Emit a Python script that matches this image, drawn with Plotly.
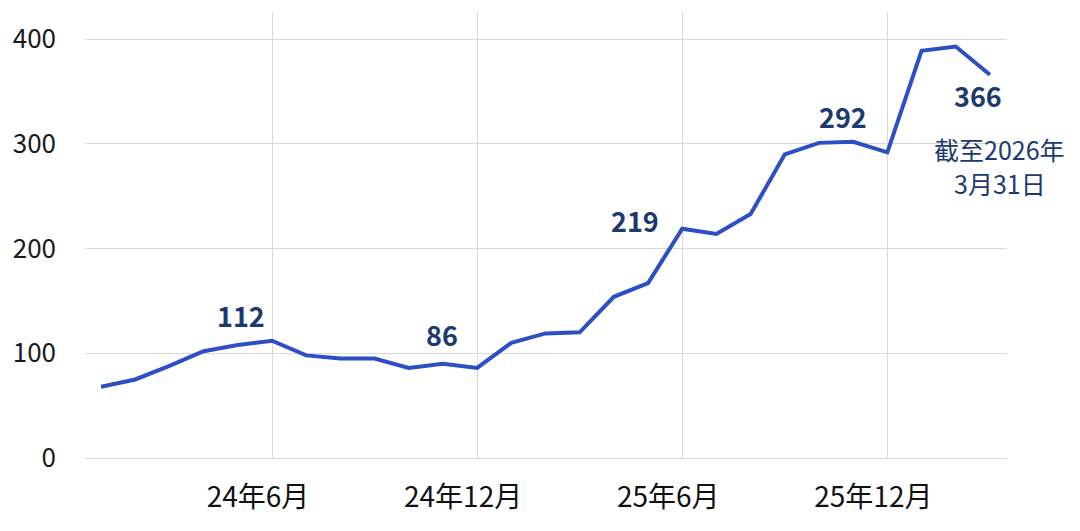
import plotly.graph_objects as go

# monthly values, Jan 2024 .. Mar 2026
months = [
    "24年1月", "24年2月", "24年3月", "24年4月", "24年5月", "24年6月",
    "24年7月", "24年8月", "24年9月", "24年10月", "24年11月", "24年12月",
    "25年1月", "25年2月", "25年3月", "25年4月", "25年5月", "25年6月",
    "25年7月", "25年8月", "25年9月", "25年10月", "25年11月", "25年12月",
    "26年1月", "26年2月", "26年3月",
]
values = [68, 75, 88, 102, 108, 112, 98, 95, 95, 86, 90, 86,
          110, 119, 120, 154, 167, 219, 214, 233, 290, 301, 302, 292,
          389, 393, 366]

tick_months = ["24年6月", "24年12月", "25年6月", "25年12月"]
y_ticks = [0, 100, 200, 300, 400]

# which points get a number, and where the number sits (px offsets)
labelled = ["24年6月", "24年12月", "25年6月", "25年12月", "26年3月"]
label_shift = [(-31, 25), (-35, 33), (-47, 8), (-44, 36), (-12, -21)]
note_lines = ["截至2026年", "3月31日"]

x_idx = list(range(len(months)))
tick_idx = [months.index(m) for m in tick_months]

LINE = "#2C4FC6"
NAVY = "#1D3A70"
FONT = "Noto Sans CJK SC"

fig = go.Figure()
fig.add_trace(go.Scatter(
    x=x_idx, y=values, mode="lines",
    line=dict(color=LINE, width=4),
    hoverinfo="skip",
))

for m, (dx, dy) in zip(labelled, label_shift):
    i = months.index(m)
    fig.add_annotation(
        x=i, y=values[i], text=f"<b>{values[i]}</b>", showarrow=False,
        xshift=dx, yshift=dy,
        font=dict(family=FONT, size=27, color=NAVY),
    )

# the "as of" note under the last value, one line per annotation
last = len(months) - 1
for k, line in enumerate(note_lines):
    fig.add_annotation(
        x=last, y=values[last], text=line, showarrow=False,
        xshift=10, yshift=-74 - 34 * k,
        borderpad=0, borderwidth=0,
        font=dict(family=FONT, size=25, color=NAVY),
    )

# page body adds ~8px, so margins are offset to compensate
fig.update_layout(
    width=1080, height=531,
    margin=dict(l=77, r=81, t=4, b=81),
    plot_bgcolor="white", paper_bgcolor="white",
    showlegend=False,
    font=dict(family=FONT, color="#222222"),
    xaxis=dict(
        range=[-0.47, 26.5],
        tickvals=tick_idx, ticktext=tick_months,
        showgrid=True, gridcolor="#D9D9D9", gridwidth=1,
        zeroline=False, showline=False, ticks="",
        tickfont=dict(family=FONT, size=28, color="#111111"),
        ticklabelstandoff=20, ticklabelshift=-14,
        fixedrange=True,
    ),
    yaxis=dict(
        range=[0, 426],
        tickvals=y_ticks,
        showgrid=True, gridcolor="#D9D9D9", gridwidth=1,
        zeroline=True, zerolinecolor="#D9D9D9", zerolinewidth=1,
        showline=False, ticks="",
        tickfont=dict(family=FONT, size=26, color="#1A1A1A"),
        ticklabelstandoff=28,
        fixedrange=True,
    ),
)

fig.write_html("out.html")
